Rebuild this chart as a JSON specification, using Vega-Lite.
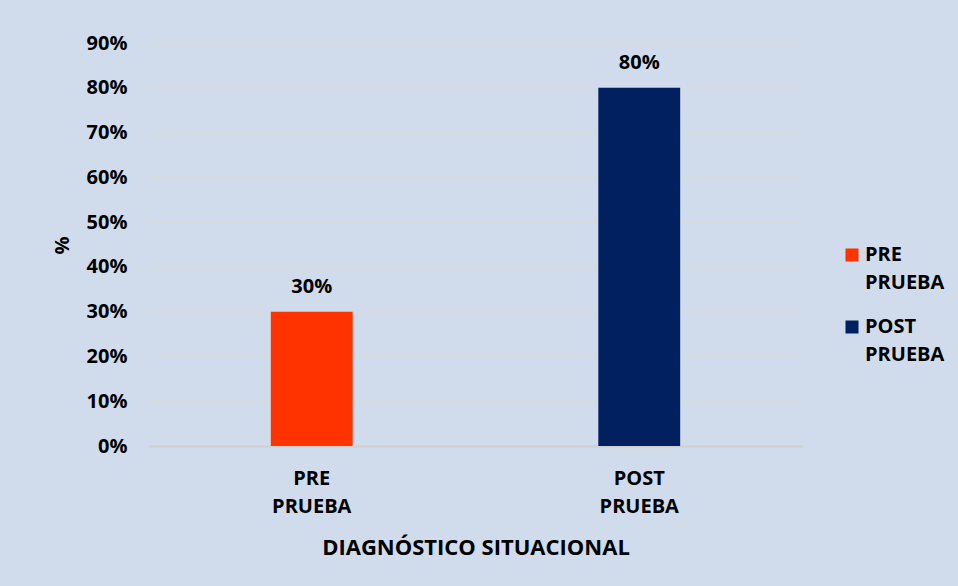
{
  "$schema": "https://vega.github.io/schema/vega-lite/v6.json",
  "width": 655,
  "height": 403,
  "autosize": {"type": "none"},
  "padding": {"left": 148, "top": 43, "right": 155, "bottom": 140},
  "background": "#d0dcec",
  "config": {
    "view": {"stroke": null},
    "font": "Open Sans",
    "axis": {"labelFont": "Open Sans", "titleFont": "Open Sans"},
    "legend": {"labelFont": "Open Sans"}
  },
  "data": {
    "values": [
      {"grupo": "PRE PRUEBA", "valor": 0.3},
      {"grupo": "POST PRUEBA", "valor": 0.8}
    ]
  },
  "encoding": {
    "x": {
      "field": "grupo",
      "type": "nominal",
      "sort": ["PRE PRUEBA", "POST PRUEBA"],
      "scale": {"paddingInner": 0.75, "paddingOuter": 0.375},
      "axis": {
        "title": "DIAGNÓSTICO SITUACIONAL",
        "titleFontSize": 22,
        "titleFontWeight": "bold",
        "titleColor": "#000000",
        "titleBaseline": "middle",
        "titleY": 101,
        "labelAngle": 0,
        "labelExpr": "split(datum.label, ' ')",
        "labelFontSize": 20,
        "labelFontWeight": "bold",
        "labelColor": "#000000",
        "labelLineHeight": 28,
        "labelBaseline": "middle",
        "labelPadding": 32,
        "ticks": false,
        "domain": true,
        "domainColor": "#d0d0d0",
        "domainWidth": 2
      }
    },
    "y": {
      "field": "valor",
      "type": "quantitative",
      "scale": {"domain": [0, 0.9]},
      "axis": {
        "title": "%",
        "titleFontSize": 20,
        "titleFontWeight": "bold",
        "titleColor": "#000000",
        "titleX": -86,
        "titleY": 202,
        "titleAlign": "center",
        "titleBaseline": "middle",
        "titleAngle": 270,
        "format": ".0%",
        "values": [0, 0.1, 0.2, 0.3, 0.4, 0.5, 0.6, 0.7, 0.8, 0.9],
        "labelFontSize": 20,
        "labelFontWeight": "bold",
        "labelColor": "#000000",
        "labelPadding": 21,
        "ticks": false,
        "domain": false,
        "grid": true,
        "gridColor": "#d6d9de",
        "gridWidth": 2
      }
    }
  },
  "layer": [
    {
      "mark": {"type": "bar"},
      "encoding": {
        "color": {
          "field": "grupo",
          "type": "nominal",
          "sort": ["PRE PRUEBA", "POST PRUEBA"],
          "scale": {"domain": ["PRE PRUEBA", "POST PRUEBA"], "range": ["#ff3300", "#002060"]},
          "legend": {
            "title": null,
            "orient": "none",
            "legendX": 694,
            "legendY": 202,
            "symbolType": "square",
            "symbolSize": 169,
            "symbolStrokeWidth": 0,
            "labelExpr": "split(datum.label, ' ')",
            "labelFontSize": 20,
            "labelFontWeight": "bold",
            "labelColor": "#000000",
            "labelBaseline": "top",
            "labelOffset": 3,
            "rowPadding": 24,
            "encode": {
              "labels": {"update": {"lineHeight": {"value": 28}, "dy": {"value": -10}}}
            }
          }
        }
      }
    },
    {
      "mark": {"type": "text", "dy": -25, "fontSize": 20, "fontWeight": "bold", "color": "#000000", "baseline": "middle"},
      "encoding": {
        "text": {"field": "valor", "type": "quantitative", "format": ".0%"}
      }
    }
  ]
}
